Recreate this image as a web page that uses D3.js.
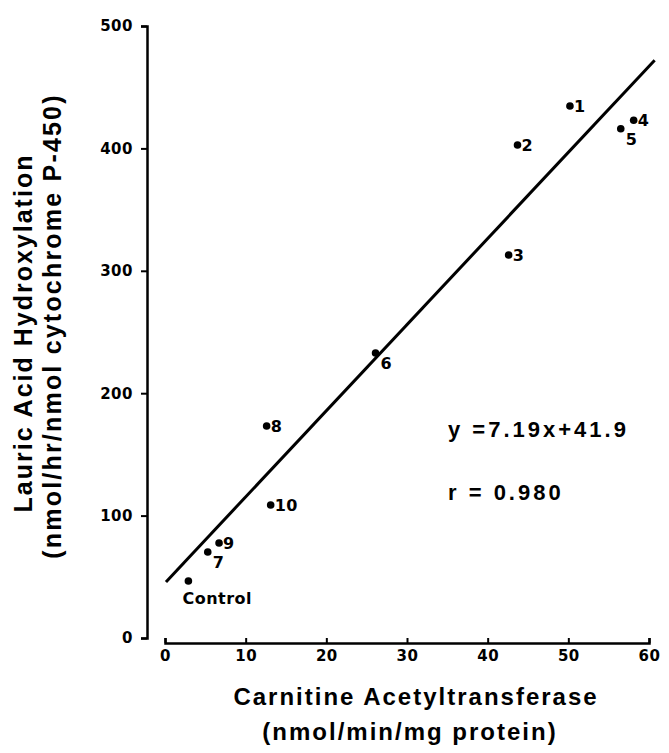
<!DOCTYPE html>
<html>
<head>
<meta charset="utf-8">
<script src="https://cdn.jsdelivr.net/npm/d3@7"></script>
<style>
  body { margin: 0; background: #fff; }
  svg { display: block; }
</style>
</head>
<body>
<div id="chart"></div>
<script>
// data
var labels = ["1", "2", "3", "4", "5", "6", "7", "8", "9", "10", "Control"];
var catValues = [50.2, 43.7, 42.6, 58.1, 56.5, 26.1, 5.3, 12.6, 6.7, 13.1, 2.9];
var lauricValues = [434.6, 402.8, 312.9, 423, 416, 232.8, 70.3, 173.2, 77.6, 108.7, 46.6];
// where each label sits relative to its point
var labelPos = ["right", "right", "right", "right", "below-right", "below-right", "below-right", "right", "right", "right", "below"];

// regression line ends as drawn
var fitX = [0.12, 60.7];
var fitY = [45.8, 472];

var xTicks = [0, 10, 20, 30, 40, 50, 60];
var yTicks = [0, 100, 200, 300, 400, 500];

var width = 669, height = 753;

var svg = d3.select("#chart")
  .append("svg")
  .attr("width", width)
  .attr("height", height);

var x = d3.scaleLinear().domain([0, 60]).range([165, 649]);
var y = d3.scaleLinear().domain([0, 500]).range([638, 26]);

// Y axis
var yAxis = svg.append("g")
  .attr("transform", "translate(147,0)")
  .call(d3.axisLeft(y).tickValues(yTicks).tickSizeOuter(0).tickSize(6).tickPadding(8));
yAxis.select(".domain").attr("stroke-width", 2.5);
yAxis.selectAll(".tick line").attr("stroke-width", 2);
yAxis.selectAll(".tick text")
  .style("font-family", "DejaVu Sans")
  .style("font-weight", "bold")
  .style("font-size", "15px")
  .style("letter-spacing", "0.5px");

// X axis
var xAxis = svg.append("g")
  .attr("transform", "translate(0,643)")
  .call(d3.axisBottom(x).tickValues(xTicks).tickSizeOuter(0).tickSize(-5).tickPadding(7));
xAxis.select(".domain").attr("stroke-width", 2.5);
xAxis.selectAll(".tick line").attr("stroke-width", 2);
xAxis.selectAll(".tick text")
  .style("font-family", "DejaVu Sans")
  .style("font-weight", "bold")
  .style("font-size", "15px")
  .style("letter-spacing", "0.5px");

// regression line
var line = d3.line()
  .x(function (d) { return x(d[0]); })
  .y(function (d) { return y(d[1]); });
svg.append("path")
  .datum(d3.zip(fitX, fitY))
  .attr("d", line)
  .attr("fill", "none")
  .attr("stroke", "#000")
  .attr("stroke-width", 3);

// points
var pts = labels.map(function (l, i) {
  return { label: l, x: catValues[i], y: lauricValues[i], pos: labelPos[i] };
});

svg.selectAll("circle.pt")
  .data(pts)
  .enter()
  .append("circle")
  .attr("class", "pt")
  .attr("cx", function (d) { return x(d.x); })
  .attr("cy", function (d) { return y(d.y); })
  .attr("r", 3.8)
  .attr("fill", "#000");

svg.selectAll("text.pl")
  .data(pts)
  .enter()
  .append("text")
  .attr("class", "pl")
  .attr("x", function (d) {
    if (d.pos == "below") return x(d.x) - 6;
    if (d.pos == "below-right") return x(d.x) + 5;
    return x(d.x) + 4;
  })
  .attr("y", function (d) {
    if (d.pos == "below") return y(d.y) + 23;
    if (d.pos == "below-right") return y(d.y) + 16;
    return y(d.y) + 6;
  })
  .style("font-family", "DejaVu Sans")
  .style("font-weight", "bold")
  .style("font-size", function (d) { return d.pos == "below" ? "16px" : "16px"; })
  .style("letter-spacing", "0.5px")
  .text(function (d) { return d.label; });

// equation text
svg.append("text")
  .attr("x", 448)
  .attr("y", 437)
  .style("font-family", "Liberation Sans")
  .style("font-size", "22px")
  .style("font-weight", "bold")
  .style("letter-spacing", "3px")
  .text("y =7.19x+41.9");

svg.append("text")
  .attr("x", 448)
  .attr("y", 500)
  .style("font-family", "Liberation Sans")
  .style("font-size", "22px")
  .style("font-weight", "bold")
  .style("letter-spacing", "3px")
  .text("r = 0.980");

// axis titles
var titleStyle = function (size, spacing) {
  return function (sel) {
    sel.style("font-family", "Liberation Sans")
      .style("font-size", size + "px")
      .style("font-weight", "bold")
      .style("letter-spacing", spacing + "px")
      .attr("text-anchor", "middle");
  };
};

svg.append("text").attr("x", 416).attr("y", 705)
  .call(titleStyle(24, 2)).text("Carnitine Acetyltransferase");
svg.append("text").attr("x", 410).attr("y", 740)
  .call(titleStyle(24, 2)).text("(nmol/min/mg protein)");

svg.append("text").attr("transform", "translate(32,333) rotate(-90)")
  .call(titleStyle(25, 2)).text("Lauric Acid Hydroxylation");
svg.append("text").attr("transform", "translate(61,326) rotate(-90)")
  .call(titleStyle(25, 2.2)).text("(nmol/hr/nmol cytochrome P-450)");
</script>
</body>
</html>
